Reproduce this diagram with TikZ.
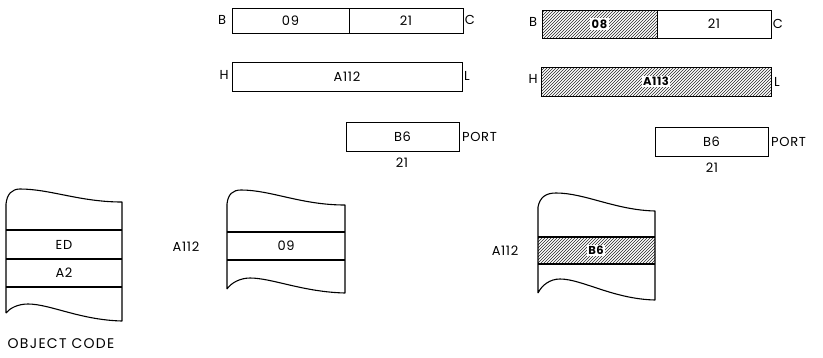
\documentclass[tikz,border=0pt]{standalone}
\usepackage{fontspec}
\setmainfont{Poppins}[LetterSpace=5]
\usetikzlibrary{patterns}
\begin{document}
\begin{tikzpicture}[x=1pt,y=-1pt,
  reg/.style={draw, line width=1pt, inner sep=0pt, minimum height=#1, font=\fontsize{13}{15}\selectfont},
  hatched/.style={pattern=north east lines, pattern color=black!85},
  tag/.style={inner sep=1pt, font=\fontsize{13}{15}\selectfont},
  blank/.style={fill=white, inner sep=1.5pt, font=\bfseries\fontsize{11.5}{13}\selectfont},
  mem/.style={line width=1.1pt, line join=round}]
\useasboundingbox (0,0) rectangle (823,357);

% ---------- left registers ----------
\node[reg=25pt, minimum width=117pt] (b1) at (290.5,20.5) {09};
\node[reg=25pt, minimum width=114pt] (c1) at (406,20.5) {21};
\node[tag] (lb1) at (222,20) {B};
\node[tag] (lc1) at (470,20) {C};
\node[reg=29pt, minimum width=230pt] (hl1) at (347,76.5) {A112};
\node[tag] (lh1) at (224,75) {H};
\node[tag] (ll1) at (467,76) {L};
\node[reg=29pt, minimum width=113pt] (p1) at (402.5,136.5) {B6};
\node[tag, anchor=west] (lp1) at (461,137) {PORT};
\node[tag] (n1) at (402,163) {21};

% ---------- right registers ----------
\node[reg=28pt, minimum width=115pt, hatched] (b2) at (599.5,24) {};
\node[blank] (b2t) at (b2) {08};
\node[reg=28pt, minimum width=114pt] (c2) at (714,24) {21};
\node[tag] (lb2) at (533,22) {B};
\node[tag] (lc2) at (778,24) {C};
\node[reg=29pt, minimum width=230pt, hatched] (hl2) at (656,81.5) {};
\node[blank] (hl2t) at (hl2) {A113};
\node[tag] (lh2) at (533,79) {H};
\node[tag] (ll2) at (777,82) {L};
\node[reg=29pt, minimum width=113pt] (p2) at (711.5,141.5) {B6};
\node[tag, anchor=west] (lp2) at (770,142) {PORT};
\node[tag] (n2) at (712,168) {21};

% ---------- memory 1 ----------
\draw[mem] (6,313) -- (6,204) .. controls (7,194) and (12,189) .. (20,189)
  .. controls (50,189) and (80,202) .. (122,202) -- (122,321)
  .. controls (80,320) and (50,304) .. (28,304)
  .. controls (18,304) and (10,308) .. (6,313);
\draw[mem] (6,230) -- (122,230);
\draw[mem] (6,259) -- (122,259);
\draw[mem] (6,287) -- (122,287);
\node[tag] (ed) at (64,245) {ED};
\node[tag] (a2) at (64,273) {A2};
\node[tag, font=\fontsize{14}{16}\selectfont\addfontfeature{LetterSpace=9}] (oc) at (61,344) {OBJECT CODE};

% ---------- memory 2 ----------
\draw[mem] (227,289) -- (227,204) .. controls (228,194) and (233,190) .. (241,190)
  .. controls (271,190) and (301,205) .. (345,205) -- (345,293)
  .. controls (303,292) and (272,278) .. (250,278)
  .. controls (240,278) and (231,283) .. (227,289);
\draw[mem] (227,232) -- (345,232);
\draw[mem] (227,260) -- (345,260);
\node[tag] (m2v) at (286,246) {09};
\node[tag] (m2a) at (186,247) {A112};

% ---------- memory 3 ----------
\fill[hatched] (538,237) rectangle (655,264);
\draw[mem] (538,293) -- (538,207) .. controls (540,197) and (546,193) .. (556,193)
  .. controls (585,193) and (615,210) .. (655,211) -- (655,300)
  .. controls (613,299) and (582,279) .. (560,279)
  .. controls (550,279) and (542,285) .. (538,293);
\draw[mem] (538,237) -- (655,237);
\draw[mem] (538,264) -- (655,264);
\node[blank] (m3v) at (596,250.5) {B6};
\node[tag] (m3a) at (505,251) {A112};
\end{tikzpicture}
\end{document}
